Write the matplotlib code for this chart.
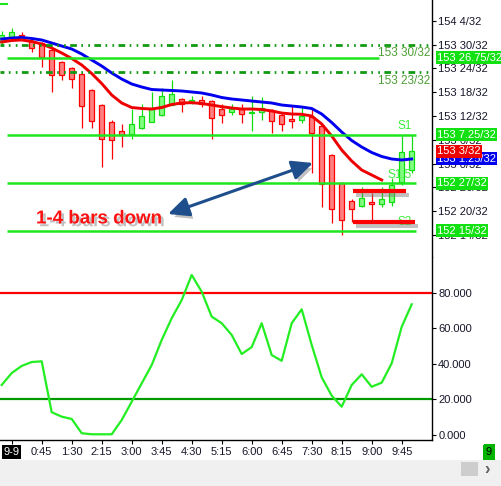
import math

import matplotlib
matplotlib.use("Agg")
import matplotlib.patheffects as pe
import matplotlib.pyplot as plt
from matplotlib.lines import Line2D
from matplotlib.patches import FancyArrowPatch, Rectangle
from matplotlib.ticker import FuncFormatter
from matplotlib.transforms import blended_transform_factory

plt.rcParams['font.family'] = ['Liberation Sans', 'DejaVu Sans']

BASE = 153  # prices below are in 32nds above 153 0/32

# 15 minute bars, bar 0 = 0:00
bars = list(range(-1, 41))
opens = [30.7, 31.87, 32.45, 31.01, 30.51, 28.66, 25.56, 24.04, 22.6, 18.49, 14.7,
         10.41, 8.14, 7.38, 8.89, 10.41, 12.17, 14.77, 16.21, 15.53, 15.96, 15.71,
         13.69, 12.93, 13.69, 12.8, 13.08, 13.51, 12.25, 11.24, 10.99, 11.82, 9.47,
         2.07, -4.9, -9.47, -10.65, -9.64, -10.22, -9.64, -4.59, -1.64]
highs = [33.46, 34.22, 33.2, 31.44, 30.76, 28.99, 25.89, 24.37, 22.86, 18.82, 15.03,
         10.99, 9.98, 13.69, 15.03, 18.06, 19.07, 21.09, 16.54, 17.05, 17.05, 16.04,
         14.95, 14.95, 14.95, 17.05, 16.92, 13.76, 13.08, 14.52, 14.35, 13.84, 9.72,
         2.4, -4.6, -9.04, -6.01, -7.52, -6.01, -3.58, 7.2, 7.2]
lows = [30.18, 31.69, 31.19, 28.23, 24.29, 18.13, 21.09, 19.14, 9.04, 9.04, -0.81,
        1.21, 4.24, 6.27, 8.71, 10.41, 12.0, 14.77, 13.08, 15.1, 14.19, 6.19,
        10.15, 12.17, 10.15, 8.13, 10.99, 7.63, 8.21, 8.89, 10.15, -2.47, -10.91,
        -14.95, -18.05, -14.69, -11.06, -14.95, -10.91, -10.65, -5.43, -2.47]
closes = [32.45, 33.28, 31.95, 29.09, 26.97, 22.27, 22.27, 21.26, 14.45, 10.66, 6.11,
          5.86, 7.2, 9.9, 11.92, 13.69, 17.05, 17.55, 15.1, 15.96, 15.1, 11.42,
          12.17, 13.69, 12.43, 13.0, 13.94, 10.81, 9.98, 10.81, 12.0, 7.63, -5.25,
          -11.56, -14.27, -11.56, -8.79, -10.22, -8.96, -5.43, 2.83, 3.16]

# slow (blue) and fast (red) averages, red stops at bar 37
ema_slow = [31.44, 31.69, 31.82, 31.57, 31.19, 30.43, 29.67, 28.92, 27.65, 26.14, 24.62,
            22.86, 21.34, 20.08, 19.32, 18.69, 18.56, 18.44, 18.31, 18.06, 17.81, 17.3,
            16.67, 16.29, 16.04, 15.78, 15.53, 15.28, 14.77, 14.52, 14.27, 13.89, 12.5,
            10.36, 7.96, 5.81, 4.17, 2.78, 1.77, 1.14, 0.89, 1.14]
ema_fast = [30.68, 31.06, 31.19, 30.81, 30.18, 29.17, 27.91, 26.52, 24.88, 22.73, 20.2,
            17.3, 15.28, 14.14, 13.89, 13.76, 14.14, 14.9, 15.28, 15.36, 15.15, 14.77,
            14.35, 14.02, 13.76, 13.76, 13.64, 13.26, 12.75, 12.5, 12.43, 12.0, 9.98,
            6.95, 3.41, 0.63, -1.64, -2.9, -4.16]

osc = [28.1, 34.8, 38.8, 41.0, 41.4, 12.8, 10.3, 9.0, 1.0, 0.4, 0.4, 0.4, 8.4, 18.7,
       29.0, 39.3, 53.4, 65.6, 75.8, 89.9, 80.5, 66.5, 62.8, 56.2, 45.5, 49.4, 62.8,
       44.9, 41.7, 62.8, 70.6, 50.6, 32.4, 22.1, 15.9, 28.1, 34.1, 27.1, 29.4, 40.3,
       60.8, 73.4]

time_ticks = list(range(0, 40, 3))
time_labels = ['9-9', '0:45', '1:30', '2:15', '3:00', '3:45', '4:30', '5:15', '6:00',
               '6:45', '7:30', '8:15', '9:00', '9:45']
price_ticks = [36, 30, 24, 18, 12, 6, 0, -6, -12, -18]
osc_ticks = [0, 20, 40, 60, 80]

pivot_dash = [30, 23]
pivot_top = 26.75
supports = [7.25, -5, -17]
support_names = ['S1', 'S1.5', 'S2']
red_marks = [-6.94, -14.77]

GREEN = '#1ee61e'
DKGREEN = '#119911'
RED = '#ff0000'
BLUE = '#0000ee'
TXT = '#16162a'

W, H = 501, 486


def px_box(x0, y0, x1, y1):
    return [x0 / W, 1 - y1 / H, (x1 - x0) / W, (y1 - y0) / H]


def fmt32(v, pos=None):
    total = BASE * 32 + v
    whole = math.floor(total / 32)
    frac = total - whole * 32
    return f"{whole} {frac:g}/32"


fig = plt.figure(figsize=(W / 100, H / 100), dpi=100)
ax = fig.add_axes(px_box(0, 0, 432, 257))
ax2 = fig.add_axes(px_box(0, 257, 432, 440))

for a in (ax, ax2):
    a.set_xlim(-1.17, 42.03)
    a.spines['left'].set_visible(False)
    a.spines['top'].set_visible(False)
    a.spines['right'].set_linewidth(1)
    a.yaxis.tick_right()
    a.tick_params(axis='y', direction='out', length=3, width=0.8, pad=1.5,
                  labelsize=8, labelcolor=TXT)
ax.spines['bottom'].set_visible(False)
ax2.spines['bottom'].set_linewidth(1)
ax.set_ylim(-23.61, 41.29)
ax2.set_ylim(-2.81, 100.0)

# candles
for k, o, h, l, c in zip(bars, opens, highs, lows, closes):
    up = c >= o
    edge = '#11dd11' if up else RED
    face = '#80ff80' if up else '#ff8080'
    ax.vlines(k, l, h, color=edge, lw=0.9, zorder=2)
    ax.add_patch(Rectangle((k - 0.27, min(o, c)), 0.54, max(abs(c - o), 0.2),
                           facecolor=face, edgecolor=edge, lw=0.9, zorder=2.1))

ax.plot(bars, ema_slow, color=BLUE, lw=2.1, zorder=3)
ax.plot(bars[:len(ema_fast)], ema_fast, color='#ee0000', lw=2.1, zorder=3)

# pivot lines
for v in pivot_dash:
    ax.axhline(v, color=DKGREEN, lw=2.0, zorder=4, dash_capstyle='butt',
               linestyle=(1, (2.4, 1.6, 0.6, 1.9, 0.6, 1.6)))
    ax.text(41.83, v - 0.7, fmt32(v), ha='right', va='top', fontsize=8.5,
            color='#4e9e36', zorder=4)
ax.hlines(pivot_top, -0.47, 36.73, color=GREEN, lw=1.8, zorder=4)
ax.hlines(supports, -0.47, 40.43, color=GREEN, lw=1.8, zorder=4)
for v, name in zip(supports, support_names):
    x0 = 37.63 if name == 'S1.5' else 38.53
    ax.text(x0, v + 0.6, name, ha='left', va='bottom', fontsize=8.5, color='#3cee3c',
            zorder=4)

shadow = [pe.SimpleLineShadow(offset=(2, -3), shadow_color='#777777', alpha=0.45),
          pe.Normal()]
ax.hlines(red_marks[0], 34.13, 39.43, color=RED, lw=3, zorder=5, path_effects=shadow)
ax.hlines(red_marks[1], 34.13, 40.33, color=RED, lw=3, zorder=5, path_effects=shadow)

arrow = FancyArrowPatch((15.63, -12.75), (30.13, 0.13),
                        arrowstyle='<|-|>,head_length=0.9,head_width=0.42',
                        mutation_scale=14, color='#1f4e8c', lw=2.2, zorder=6,
                        shrinkA=0, shrinkB=0,
                        path_effects=[pe.SimplePatchShadow(offset=(2, -3),
                                                           shadow_rgbFace='#777777',
                                                           alpha=0.45),
                                      pe.Normal()])
ax.add_patch(arrow)
ax.text(2.43, -14.0, '1-4 bars down', color='#ff1111', fontsize=13.5,
        fontweight='bold', ha='left', va='center', zorder=6,
        path_effects=[pe.withSimplePatchShadow(offset=(2, -2),
                                               shadow_rgbFace='#999999', alpha=0.6)])

# price axis
ax.set_xticks([])
ax.set_yticks(price_ticks)
ax.yaxis.set_major_formatter(FuncFormatter(fmt32))
ytr = blended_transform_factory(ax.transAxes, ax.transData)
ax.text(1.0 + 5 / 432, 42, fmt32(42), transform=ytr, ha='left', va='center',
        fontsize=8, color=TXT, clip_on=False)


def tag(v, text, bg, z):
    ax.text(1.0 + 5 / 432, v, text, transform=ytr, ha='left', va='center',
            fontsize=8, color='white', clip_on=False, zorder=z,
            bbox=dict(boxstyle='square,pad=0.12', fc=bg, ec='none'))


tag(pivot_top, '153 26.75/32', '#11e011', 7)
tag(supports[0], fmt32(supports[0]), '#11e011', 7)
tag(supports[1], fmt32(supports[1]), '#11e011', 7)
tag(supports[2], fmt32(supports[2]), '#11e011', 7)
tag(ema_slow[-1] + 0.1, '153 1.25/32', BLUE, 7)
tag(closes[-1] - 0.1, fmt32(3), '#ee0000', 8)

# oscillator
ax2.plot(bars, osc, color='#22ee22', lw=1.6, zorder=3)
ax2.axhline(80, color=RED, lw=1.6, zorder=2)
ax2.axhline(20, color='#009900', lw=1.6, zorder=2)
ax2.set_yticks(osc_ticks)
ax2.set_yticklabels([f"{t:.3f}" for t in osc_ticks])
ax2.set_xticks(time_ticks)
ax2.set_xticklabels(time_labels)
ax2.tick_params(axis='x', direction='out', length=3, width=0.8, pad=2,
                labelsize=8, labelcolor=TXT)
first = ax2.get_xticklabels()[0]
first.set_color('white')
first.set_bbox(dict(boxstyle='square,pad=0.15', fc='black', ec='none'))

# window furniture
# the bottom of "0.000" is cut by the pane edge in the original
fig.patches.append(Rectangle((434 / W, 1 - 445 / H), 50 / W, 6 / H,
                             transform=fig.transFigure, fc='white', ec='none',
                             zorder=5))
fig.add_artist(Line2D([0, 7 / W], [1 - 4.5 / H] * 2, color=GREEN, lw=1.5))
fig.patches.append(Rectangle((0, 0), 1, 26 / H, transform=fig.transFigure,
                             fc='#f0f0f0', ec='none', zorder=0))
fig.patches.append(Rectangle((461 / W, 10 / H), 17 / W, 14 / H,
                             transform=fig.transFigure, fc='#cdcdcd', ec='none'))
fig.text(487 / W, 17 / H, '\u203a', ha='center', va='center', fontsize=12,
         fontweight='bold', color='#606060')
fig.text(489 / W, 34 / H, '9', ha='center', va='center', fontsize=8, color='black',
         bbox=dict(boxstyle='square,pad=0.25', fc='#00b400', ec='none'))

fig.savefig('out.png', dpi=100)
